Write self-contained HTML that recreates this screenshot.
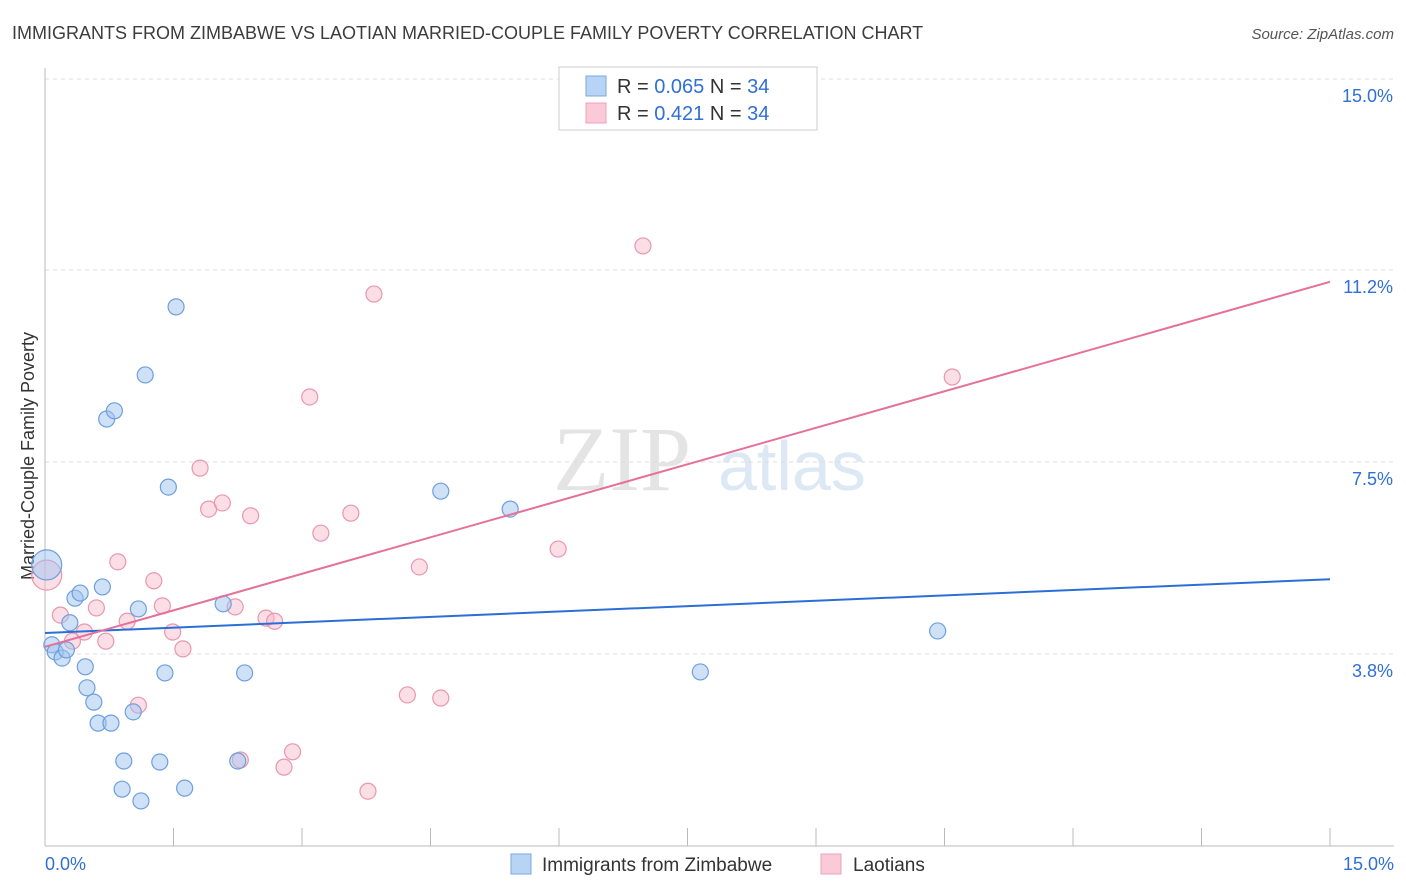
<!DOCTYPE html>
<html><head><meta charset="utf-8"><style>
body{margin:0;background:#fff;font-family:"Liberation Sans",sans-serif;}
svg{display:block}
</style></head><body>
<svg id="chart" width="1406" height="892" viewBox="0 0 1406 892" xmlns="http://www.w3.org/2000/svg">
<text x="12" y="39" font-size="18" fill="#3c3c3c">IMMIGRANTS FROM ZIMBABWE VS LAOTIAN MARRIED-COUPLE FAMILY POVERTY CORRELATION CHART</text>
<text x="1394" y="39" font-size="15" fill="#555" font-style="italic" text-anchor="end">Source: ZipAtlas.com</text>
<text x="553" y="490" font-size="92" fill="#e4e4e4" font-family="Liberation Serif,serif">ZIP</text>
<text x="718" y="490" font-size="70" fill="#dde8f5">atlas</text>
<g id="grid"></g>
<g id="axes"></g>
<text transform="translate(34,456) rotate(-90)" font-size="18" fill="#333" text-anchor="middle">Married-Couple Family Poverty</text>
<g id="marks"></g>
<g>
<rect x="559" y="67" width="258" height="63" fill="#fff" stroke="#ccc"/>
<rect x="586" y="76" width="20" height="20" fill="#b8d4f5" stroke="#7aa8e0"/>
<text x="617" y="93" font-size="20" fill="#333">R = <tspan fill="#2f6fd6">0.065</tspan>   N = <tspan fill="#2f6fd6">34</tspan></text>
<rect x="586" y="103" width="20" height="20" fill="#fbcad8" stroke="#eda0b8"/>
<text x="617" y="120" font-size="20" fill="#333">R =  <tspan fill="#2f6fd6">0.421</tspan>   N = <tspan fill="#2f6fd6">34</tspan></text>
</g>
<g>
<rect x="511" y="854" width="20" height="20" fill="#b8d4f5" stroke="#7aa8e0"/>
<text x="542" y="871" font-size="19" fill="#333">Immigrants from Zimbabwe</text>
<rect x="821" y="854" width="20" height="20" fill="#fbcad8" stroke="#eda0b8"/>
<text x="853" y="871" font-size="19" fill="#333">Laotians</text>
</g>
</svg>
<script>
const yTicks=[3.8,7.5,11.2,15.0];
const yTickLabels=["3.8%","7.5%","11.2%","15.0%"];
const xTickLabels=["0.0%","15.0%"];
const blueX=[0.02,0.08,0.12,0.20,0.25,0.29,0.35,0.41,0.47,0.49,0.57,0.62,0.67,0.72,0.77,0.81,0.92,0.90,1.03,1.09,1.12,1.17,1.34,1.40,1.44,1.53,1.63,2.08,2.25,2.33,4.62,5.43,7.65,10.42];
const blueY=[5.49,3.93,3.79,3.67,3.83,4.36,4.84,4.94,3.50,3.09,2.81,2.40,5.06,8.34,2.40,8.50,1.66,1.11,2.62,4.63,0.88,9.20,1.64,3.38,7.01,10.53,1.13,4.73,1.66,3.38,6.93,6.58,3.40,4.20];
const pinkX=[0.02,0.18,0.32,0.46,0.60,0.71,0.85,0.96,1.09,1.27,1.37,1.49,1.61,1.81,1.91,2.07,2.22,2.28,2.40,2.58,2.68,2.79,2.89,3.09,3.22,3.57,3.77,3.84,4.23,4.37,4.62,5.99,6.98,10.59];
const pinkY=[5.29,4.51,4.00,4.18,4.65,4.00,5.55,4.39,2.75,5.18,4.69,4.18,3.85,7.38,6.58,6.70,4.67,1.68,6.45,4.45,4.39,1.54,1.84,8.77,6.11,6.50,1.07,10.78,2.95,5.45,2.89,5.80,11.72,9.16];
const blueTrend=[4.16,5.21];
const pinkTrend=[3.89,11.02];

const NS="http://www.w3.org/2000/svg";
const sx=v=>45+v/15*1285;
const sy=v=>846-v/3.75*192;
function mk(tag,attrs,parent){const e=document.createElementNS(NS,tag);for(const k in attrs)e.setAttribute(k,attrs[k]);parent.appendChild(e);return e;}
const grid=document.getElementById('grid'),axes=document.getElementById('axes'),marks=document.getElementById('marks');
yTicks.forEach((t,i)=>{
  const y=sy(t===15?15.0:t)-(t===3.8?-(654-sy(3.8)):0);
  const gy=[654,462,270,79][i];
  const l=mk('line',{x1:45,x2:1394,y1:gy,y2:gy,stroke:'#dcdcdc','stroke-dasharray':'4,4'},grid);
  
  
  const tx=mk('text',{x:1393,y:gy+23,'font-size':18,fill:'#2f6fd6','text-anchor':'end'},grid);
  tx.textContent=yTickLabels[i];
  
  
});
let a=mk('line',{x1:45,x2:45,y1:68,y2:846,stroke:'#bbb'},axes);


a=mk('line',{x1:45,x2:1394,y1:846,y2:846,stroke:'#bbb'},axes);


for(let i=0;i<=10;i++){
  const x=sx(i*1.5);
  const t=mk('line',{x1:x,x2:x,y1:828,y2:846,stroke:'#bbb'},axes);
  
  
}
[[0,'start',45],[1,'end',1394]].forEach(([i,anc,x])=>{
  const t=mk('text',{x:x,y:870,'font-size':18,fill:'#2f6fd6','text-anchor':anc},axes);
  t.textContent=xTickLabels[i];
  
  
});
function series(X,Y,fill,stroke,name){
  X.forEach((x,i)=>{
    const r=i===0?15:8;
    const c=mk('circle',{cx:sx(x),cy:sy(Y[i]),r:r,fill:fill,stroke:stroke,'stroke-width':1.2},marks);
    
    
  });
}
series(pinkX,pinkY,'rgba(248,182,202,0.45)','#e996b0','laotians-point');
series(blueX,blueY,'rgba(160,196,240,0.5)','#6e9fdc','zimbabwe-point');
let tl=mk('line',{x1:sx(0),y1:sy(blueTrend[0]),x2:sx(15),y2:sy(blueTrend[1]),stroke:'#2a6fd6','stroke-width':2},marks);


tl=mk('line',{x1:sx(0),y1:sy(pinkTrend[0]),x2:sx(15),y2:sy(pinkTrend[1]),stroke:'#e5709a','stroke-width':2},marks);


</script>
</body></html>
